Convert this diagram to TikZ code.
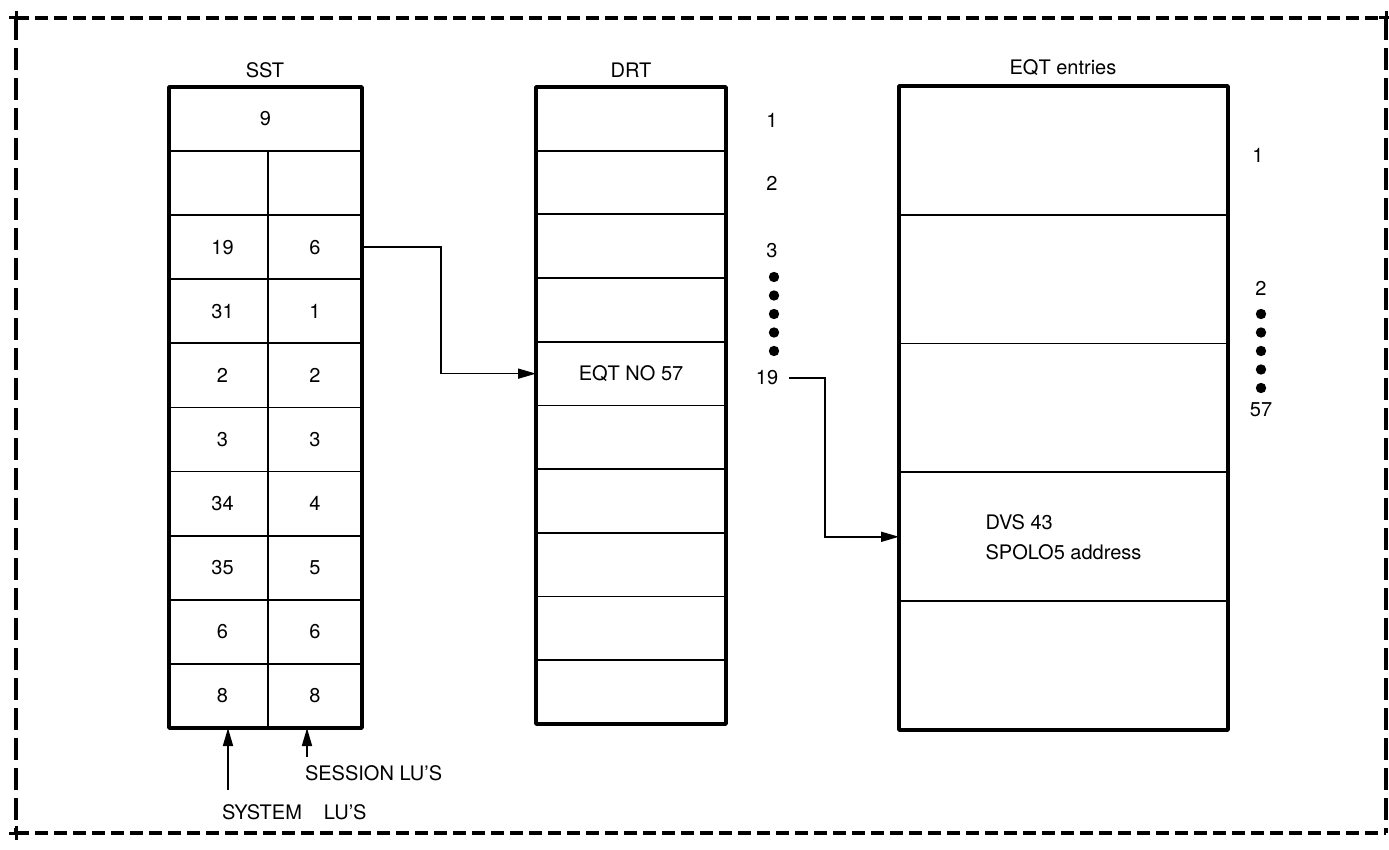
\documentclass[tikz,border=0pt]{standalone}
\usepackage{fontspec}
\setmainfont{TeX Gyre Heros}
\usetikzlibrary{arrows.meta,positioning}

\begin{document}
\begin{tikzpicture}[x=0.5pt,y=-0.5pt,font=\fontsize{10}{15}\selectfont,
 cell/.style={draw,line width=0.9pt,inner sep=0pt,outer sep=0pt,align=left},
 sstwide/.style={cell,minimum width=96.5pt,minimum height=32.05pt},
 sstleft/.style={cell,minimum width=49.5pt,minimum height=32.05pt},
 sstright/.style={cell,minimum width=47pt,minimum height=32.05pt},
 drtcell/.style={cell,minimum width=95pt,minimum height=31.85pt},
 eqtcell/.style={cell,minimum width=164.5pt,minimum height=64.4pt},
 frame/.style={line width=1.7pt,line join=round},
 link/.style={-{Triangle[length=9pt,width=5pt]},line width=0.85pt},
 hdash/.style={line width=1.8pt,dash pattern=on 6.5pt off 3pt},
 vdash/.style={line width=1.8pt,dash pattern=on 11pt off 4pt}]
\useasboundingbox (0,0) rectangle (1389,850);

% dashed outline
\coordinate (tl) at (16,18);
\coordinate (tr) at (1386,18);
\coordinate (bl) at (16,833);
\coordinate (br) at (1386,833);
\draw[hdash] (tl) -- (tr);
\draw[hdash] (bl) -- (br);
\draw[vdash] (tl) -- (bl);
\draw[vdash] (tr) -- (br);
\foreach \c in {tl,tr,bl}
  \draw[line width=1.5pt] ([xshift=-3.5pt]\c) -- ([xshift=3.5pt]\c) ([yshift=-3.5pt]\c) -- ([yshift=3.5pt]\c);

% SST
\node (ssttitle) at (265,70) {SST};
\node[sstwide] (sst1) at (265.5,119) {9};
\foreach \l/\r [count=\i from 2] in {{}/{},19/6,31/1,2/2,3/3,34/4,35/5,6/6,8/8}{
  \node[sstleft] (sstL\i) at (218.5,{87+64.1*(\i-0.5)}) {\hspace{4pt}\l};
  \node[sstright] (sstR\i) at (315,{87+64.1*(\i-0.5)}) {\r};
}
\draw[frame] (sst1.north west) rectangle (sstR10.south east);

% DRT
\node (drttitle) at (631,70) {DRT};
\foreach \t [count=\i] in {{},{},{},{},EQT NO 57,{},{},{},{},{}}
  \node[drtcell] (drt\i) at (631,{87+63.7*(\i-0.5)}) {\t};
\draw[frame] (drt1.north west) rectangle (drt10.south east);
\node (d1) at (772,120) {1};
\node (d2) at (772,183) {2};
\node (d3) at (772,251) {3};
\foreach \k in {0,...,4}
  \fill (774,{277+18.5*\k}) circle (2.6pt);
\node (d19) at (767,378) {19};

% EQT entries
\node (eqttitle) at (1063,68) {EQT entries};
\foreach \t [count=\i] in {{},{},{},{DVS 43\\SPOLO5 address},{}}
  \node[eqtcell] (eqt\i) at (1063.5,{86+128.8*(\i-0.5)}) {\t};
\draw[frame] (eqt1.north west) rectangle (eqt5.south east);
\node (e1) at (1258,155) {1};
\node (e2) at (1261,288) {2};
\foreach \k in {0,...,4}
  \fill (1261,{314+18.5*\k}) circle (2.6pt);
\node (e57) at (1261,410) {57};

% pointers
\draw[link] (sstR3.east) -- ++(79,0) |- (drt5.west);
\draw[link] ([xshift=2pt]d19.east) -- ++(36,0) |- (eqt4.west);

% LU markers
\coordinate (sysfoot) at (228,790);
\coordinate (sesfoot) at (307,757);
\draw[link] (sysfoot) -- (sysfoot |- sstL10.south);
\draw[link] (sesfoot) -- (sesfoot |- sstR10.south);
\node[anchor=west] (seslabel) at (298,773) {SESSION LU'S};
\node[anchor=west] (syslabel) at (215,812) {SYSTEM\hspace{1.1em}LU'S};
\end{tikzpicture}
\end{document}
